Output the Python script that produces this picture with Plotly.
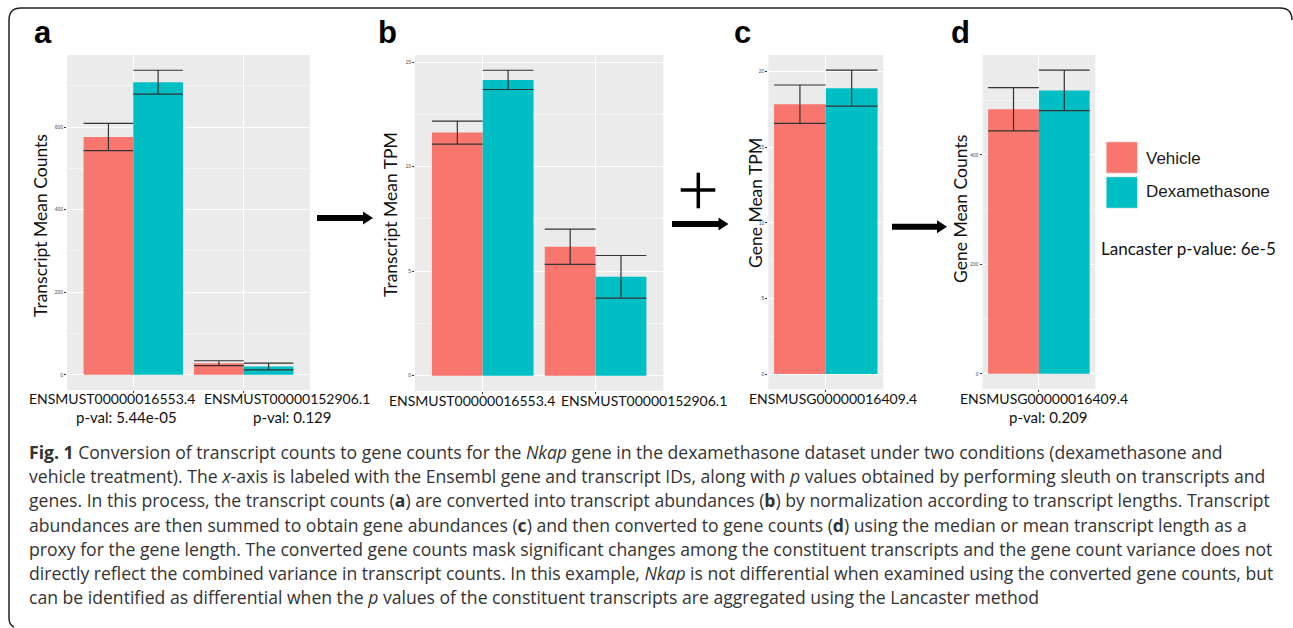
import plotly.graph_objects as go

W, H = 1293, 628

# ---------------- data ----------------
transcripts = ["ENSMUST00000016553.4", "ENSMUST00000152906.1"]
genes = ["ENSMUSG00000016409.4"]
conditions = ["Vehicle", "Dexamethasone"]
colors = {"Vehicle": "#F8766D", "Dexamethasone": "#00BFC4"}

# panel a: transcript mean counts
a_vehicle = [576, 28]
a_vehicle_se = [33, 6]
a_dex = [709, 20]
a_dex_se = [29, 8]
a_pvals = ["p-val: 5.44e-05", "p-val: 0.129"]

# panel b: transcript mean TPM
b_vehicle = [11.63, 6.17]
b_vehicle_se = [0.55, 0.84]
b_dex = [14.15, 4.73]
b_dex_se = [0.46, 1.02]

# panel c: gene mean TPM
c_vehicle = [17.84]
c_vehicle_se = [1.27]
c_dex = [18.9]
c_dex_se = [1.19]

# panel d: gene mean counts
d_vehicle = [483.5]
d_vehicle_se = [39.5]
d_dex = [518]
d_dex_se = [37]
d_pvals = ["p-val: 0.209"]

lancaster = "Lancaster p-value: 6e-5"

caption_lines = [
    "<b>Fig. 1</b> Conversion of transcript counts to gene counts for the <i>Nkap</i> gene in the dexamethasone dataset under two conditions (dexamethasone and",
    "vehicle treatment). The <i>x</i>-axis is labeled with the Ensembl gene and transcript IDs, along with <i>p</i> values obtained by performing sleuth on transcripts and",
    "genes. In this process, the transcript counts (<b>a</b>) are converted into transcript abundances (<b>b</b>) by normalization according to transcript lengths. Transcript",
    "abundances are then summed to obtain gene abundances (<b>c</b>) and then converted to gene counts (<b>d</b>) using the median or mean transcript length as a",
    "proxy for the gene length. The converted gene counts mask significant changes among the constituent transcripts and the gene count variance does not",
    "directly reflect the combined variance in transcript counts. In this example, <i>Nkap</i> is not differential when examined using the converted gene counts, but",
    "can be identified as differential when the <i>p</i> values of the constituent transcripts are aggregated using the Lancaster method",
]

# ---------------- layout helpers ----------------
def px(x):
    return x / W

def py(y):
    return 1 - y / H

panels = [
    dict(cats=transcripts, veh=a_vehicle, vse=a_vehicle_se, dex=a_dex, dse=a_dex_se,
         x0=67, x1=310, y0=55, y1=390, dtick=200, title="Transcript Mean Counts",
         tx=40, ty=226, letter="a", lx=43),
    dict(cats=transcripts, veh=b_vehicle, vse=b_vehicle_se, dex=b_dex, dse=b_dex_se,
         x0=415, x1=663.3, y0=55, y1=391, dtick=5, title="Transcript Mean TPM",
         tx=390, ty=215, letter="b", lx=387),
    dict(cats=genes, veh=c_vehicle, vse=c_vehicle_se, dex=c_dex, dse=c_dex_se,
         x0=768.3, x1=883.3, y0=55, y1=389.3, dtick=5, title="Gene Mean TPM",
         tx=755, ty=203, letter="c", lx=742),
    dict(cats=genes, veh=d_vehicle, vse=d_vehicle_se, dex=d_dex, dse=d_dex_se,
         x0=982.5, x1=1095.3, y0=55, y1=389, dtick=200, title="Gene Mean Counts",
         tx=960, ty=209, letter="d", lx=960),
]

fig = go.Figure()
annotations = []
shapes = []
layout_axes = {}

for i, p in enumerate(panels):
    n = i + 1
    xa = "x" if n == 1 else f"x{n}"
    ya = "y" if n == 1 else f"y{n}"
    ncat = len(p["cats"])
    span = ncat + 0.2 if ncat > 1 else 1.0
    xr = [-0.6, ncat - 0.4] if ncat > 1 else [-0.5, 0.5]
    bar_px = 0.45 * (p["x1"] - p["x0"]) / span
    ymax = max(max(v + s for v, s in zip(p["veh"], p["vse"])),
               max(v + s for v, s in zip(p["dex"], p["dse"])))
    yr = [-0.05 * ymax, 1.05 * ymax]

    for cond, vals, se in (("Vehicle", p["veh"], p["vse"]), ("Dexamethasone", p["dex"], p["dse"])):
        fig.add_trace(go.Bar(
            x=p["cats"], y=vals, name=cond, offsetgroup=cond,
            marker=dict(color=colors[cond], line=dict(width=0)),
            error_y=dict(type="data", array=se, visible=True, color="#333333",
                         thickness=1.2, width=bar_px / 2),
            xaxis=xa, yaxis=ya, showlegend=False,
        ))

    xkey = "xaxis" if n == 1 else f"xaxis{n}"
    ykey = "yaxis" if n == 1 else f"yaxis{n}"
    layout_axes[xkey] = dict(
        domain=[px(p["x0"]), px(p["x1"])], anchor=ya, range=xr, type="category",
        showgrid=True, gridcolor="white", gridwidth=1, showticklabels=False,
        ticks="outside", ticklen=2, tickwidth=0.7, tickcolor="#333333",
        showline=False, zeroline=False, fixedrange=True,
    )
    layout_axes[ykey] = dict(
        domain=[py(p["y1"]), py(p["y0"])], anchor=xa, range=yr,
        dtick=p["dtick"], tick0=0, showgrid=True, gridcolor="white", gridwidth=1,
        minor=dict(dtick=p["dtick"] / 2, showgrid=True, gridcolor="#F4F4F4", gridwidth=0.6),
        ticks="outside", ticklen=2, tickwidth=0.7, tickcolor="#333333",
        tickfont=dict(size=5, color="#4D4D4D", family="Liberation Sans"),
        showline=False, zeroline=False, fixedrange=True,
    )
    annotations.append(dict(
        text=p["title"], x=px(p["tx"]), y=py(p["ty"]), xref="paper", yref="paper",
        textangle=-90, showarrow=False, xanchor="center", yanchor="middle",
        font=dict(family="Lato", size=17.5, color="#111111"),
    ))
    annotations.append(dict(
        text=f"<b>{p['letter']}</b>", x=px(p["lx"]), y=py(52), xref="paper", yref="paper",
        showarrow=False, xanchor="center", yanchor="bottom",
        font=dict(family="Liberation Sans", size=31, color="#000000"),
    ))

label_pos = [
    (transcripts[0], 111.5, 398.3), (transcripts[1], 286.7, 398.3),
    (transcripts[0], 472, 400), (transcripts[1], 644, 400),
    (genes[0], 833.3, 398.3), (genes[0], 1044, 398),
]
for txt, x, y in label_pos:
    annotations.append(dict(text=txt, x=px(x), y=py(y), xref="paper", yref="paper",
                            showarrow=False, xanchor="center", yanchor="middle",
                            font=dict(family="Lato", size=14, color="#111111")))
pval_pos = [(a_pvals[0], 126.5, 416.7), (a_pvals[1], 291.5, 416.7), (d_pvals[0], 1048, 416.5)]
for txt, x, y in pval_pos:
    annotations.append(dict(text=txt, x=px(x), y=py(y), xref="paper", yref="paper",
                            showarrow=False, xanchor="center", yanchor="middle",
                            font=dict(family="Lato", size=15, color="#111111")))

for cond, (yt, yb), ty in (("Vehicle", (141.7, 173.3), 158.3), ("Dexamethasone", (176.7, 208.3), 192)):
    shapes.append(dict(type="rect", xref="paper", yref="paper",
                       x0=px(1106), x1=px(1137.7), y0=py(yb), y1=py(yt),
                       fillcolor=colors[cond], line=dict(color="#F2F2F2", width=1)))
    annotations.append(dict(text=cond, x=px(1144), y=py(ty), xref="paper", yref="paper",
                            showarrow=False, xanchor="left", yanchor="middle",
                            font=dict(family="Liberation Sans", size=17, color="#1A1A1A")))
annotations.append(dict(text=lancaster, x=px(1099.3), y=py(248.3), xref="paper", yref="paper",
                        showarrow=False, xanchor="left", yanchor="middle",
                        font=dict(family="Lato", size=17, color="#111111")))

def arrow_path(x0, x1, yc, sh=6.0, hl=10.0, hh=13.0):
    xs = x1 - hl
    pts = [(x0, yc - sh / 2), (xs, yc - sh / 2), (xs, yc - hh / 2), (x1, yc),
           (xs, yc + hh / 2), (xs, yc + sh / 2), (x0, yc + sh / 2)]
    return "M " + " L ".join(f"{px(a):.5f},{py(b):.5f}" for a, b in pts) + " Z"

for x0, x1, yc in ((317, 373, 218), (672, 728.5, 224), (892, 947, 226.7)):
    shapes.append(dict(type="path", xref="paper", yref="paper", path=arrow_path(x0, x1, yc),
                       fillcolor="black", line=dict(width=0)))
shapes.append(dict(type="line", xref="paper", yref="paper", x0=px(698.3), x1=px(698.3),
                   y0=py(172.7), y1=py(208.3), line=dict(color="black", width=3.5)))
shapes.append(dict(type="line", xref="paper", yref="paper", x0=px(680.7), x1=px(715.3),
                   y0=py(190), y1=py(190), line=dict(color="black", width=3.5)))

frame = (f"M {px(1292):.5f},{py(20):.5f} Q {px(1292):.5f},{py(8):.5f} {px(1280):.5f},{py(8):.5f} "
         f"L {px(21):.5f},{py(8):.5f} Q {px(9):.5f},{py(8):.5f} {px(9):.5f},{py(20):.5f} "
         f"L {px(9):.5f},{py(618):.5f} Q {px(9):.5f},{py(625):.5f} {px(14):.5f},{py(627):.5f}")
shapes.append(dict(type="path", xref="paper", yref="paper", path=frame,
                   line=dict(color="#222222", width=1.5)))

cap_y0, cap_dy = 452, 24.2
for k, line in enumerate(caption_lines):
    annotations.append(dict(text=line, x=px(27), y=py(cap_y0 + k * cap_dy), xref="paper", yref="paper",
                            showarrow=False, xanchor="left", yanchor="middle", align="left",
                            font=dict(family="Open Sans", size=17.6, color="#333333")))

fig.update_layout(
    width=W, height=H, autosize=False,
    margin=dict(l=0, r=0, t=0, b=0, pad=0),
    paper_bgcolor="white", plot_bgcolor="#EBEBEB",
    barmode="group", bargap=0.1, bargroupgap=0,
    showlegend=False,
    annotations=annotations, shapes=shapes,
    font=dict(family="Lato"),
    **layout_axes,
)

fig.write_html("out.html")
